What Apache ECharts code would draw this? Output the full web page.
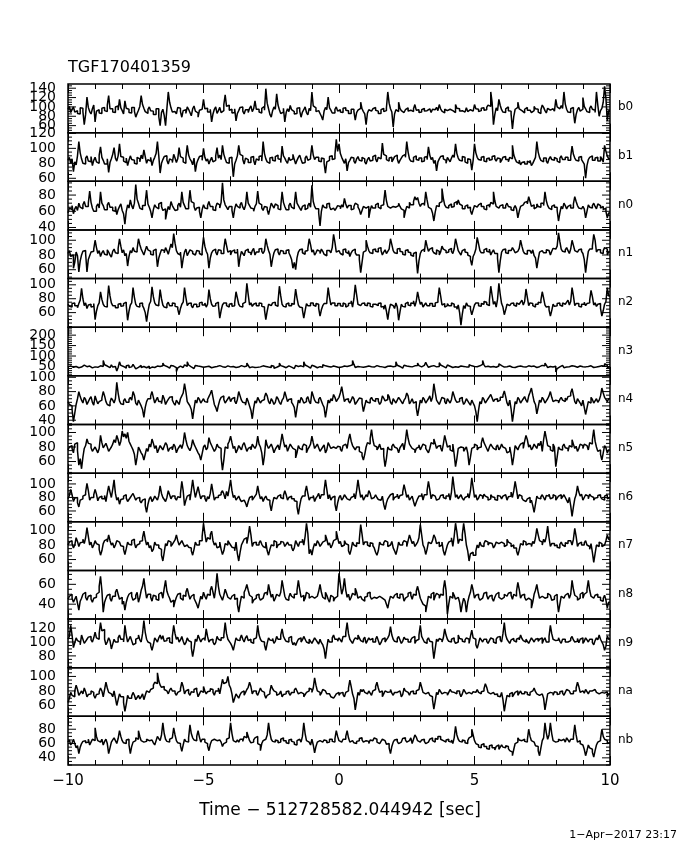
<!DOCTYPE html>
<html>
<head>
<meta charset="utf-8">
<script src="https://cdn.jsdelivr.net/npm/echarts@6/dist/echarts.min.js"></script>
<style>
html,body{margin:0;padding:0;background:#fff;}
#chart{width:680px;height:850px;}
</style>
</head>
<body>
<div id="chart"></div>
<script>
// ---- data: counts per 0.05 s bin, from t = -10 s to +10 s ----
const binStart = -10;
const binWidth = 0.05;
const detectorNames = ['b0','b1','n0','n1','n2','n3','n4','n5','n6','n7','n8','n9','na','nb'];

const b0 = [95,101,88,94,100,89,92,86,85,98,97,90,62,84,121,99,90,85,96,104,
68,91,94,87,86,97,99,92,90,104,124,96,96,89,88,100,102,93,116,98,
92,85,113,97,95,88,87,99,99,91,78,86,93,101,124,105,97,90,86,95,
100,92,91,84,84,96,96,79,60,88,95,82,60,97,132,110,98,89,90,94,
85,99,97,90,78,92,94,86,100,95,88,81,96,102,91,87,78,93,95,99,
116,96,97,89,89,95,68,85,95,100,86,92,99,88,92,105,126,101,104,93,
95,87,88,96,70,86,92,99,100,91,85,94,94,88,97,102,90,96,113,95,
95,89,87,97,101,93,139,108,96,84,78,92,100,95,128,104,94,86,89,97,
68,88,96,90,103,94,90,85,86,97,98,91,78,89,94,100,88,83,97,92,
132,102,98,90,92,96,86,80,72,91,99,94,121,98,93,87,87,95,100,91,
94,89,88,97,98,93,92,86,86,95,95,90,72,88,93,97,110,96,90,85,
62,87,94,91,88,96,99,93,91,86,86,94,97,90,92,98,132,108,96,89,
57,85,94,90,110,97,92,88,87,94,98,91,93,89,90,96,105,93,94,88,
89,94,97,91,92,88,96,93,88,95,94,90,99,92,105,96,91,87,95,92,
90,95,97,92,93,88,105,97,96,91,92,95,89,93,98,90,94,97,91,88,
105,96,95,90,92,97,98,93,94,99,104,101,132,110,62,84,98,92,116,103,
94,89,88,96,100,92,91,85,53,80,95,99,110,96,92,88,87,95,99,93,
93,97,88,92,101,96,95,89,86,94,104,99,92,87,97,93,89,96,98,91,
116,100,96,92,103,97,132,106,95,89,88,96,99,90,65,84,94,99,91,95,
120,101,96,90,88,97,102,95,93,88,132,104,80,92,97,110,144,118,70,92];
const b1 = [84,88,80,86,69,82,78,90,109,94,86,80,79,87,90,83,82,89,77,84,
88,82,80,91,102,88,84,79,79,86,68,81,86,92,101,87,83,90,106,89,
88,83,81,87,77,84,90,85,84,80,79,88,86,82,91,86,98,89,80,85,
83,88,77,84,88,93,109,90,67,80,85,89,90,84,79,86,84,81,92,87,
81,86,101,89,87,82,80,88,104,91,86,83,78,87,69,80,85,89,90,84,
100,88,83,86,79,84,88,82,84,90,101,87,91,85,104,92,86,81,80,87,
88,83,62,79,84,90,104,92,90,85,79,87,85,81,81,88,89,84,78,86,
84,89,90,83,109,93,86,82,80,87,88,84,83,89,91,86,85,81,103,90,
87,83,80,88,84,86,92,85,79,84,88,91,85,80,81,87,90,84,86,89,
104,91,85,88,88,83,82,87,86,80,67,82,84,89,90,85,86,92,112,96,
106,93,88,84,80,86,70,81,84,88,87,83,80,86,89,84,83,88,86,82,
79,85,88,83,84,89,91,86,82,88,86,84,107,92,90,85,83,87,88,82,
85,89,91,86,80,84,87,90,92,88,109,95,86,83,82,88,90,85,84,87,
87,82,83,88,89,85,102,91,85,88,80,84,70,82,86,89,90,86,84,80,
88,85,82,87,91,88,106,93,87,84,83,89,88,82,80,86,85,83,71,84,
106,94,88,85,84,88,89,83,82,86,87,84,85,89,90,86,83,87,86,81,
84,88,89,85,85,82,88,86,104,91,86,82,80,84,78,81,82,79,79,83,
81,84,77,80,84,88,109,95,88,84,82,87,87,83,80,86,89,85,84,88,
86,83,81,87,90,85,85,88,88,84,84,89,103,92,87,84,83,88,89,85,
82,79,60,77,85,88,90,84,84,87,88,83,83,89,86,82,104,96,90,86];
const n0 = [58,64,62,67,57,63,66,61,70,65,63,68,72,66,66,70,85,71,64,60,
60,66,69,64,84,70,67,62,62,68,71,65,65,61,60,66,56,62,66,69,
61,57,44,60,68,64,74,67,63,70,93,75,70,64,62,67,67,71,86,69,
65,60,52,62,68,65,63,69,71,66,61,63,50,59,66,62,72,67,64,61,
62,67,70,65,84,71,67,63,63,69,86,72,70,66,61,64,65,60,52,62,
68,64,63,67,72,66,66,62,61,65,70,68,64,71,95,74,68,65,62,66,
66,61,52,63,69,66,64,68,71,65,62,67,84,70,67,64,63,60,66,69,
85,70,68,64,61,66,65,62,56,63,70,67,64,69,67,63,62,66,84,71,
66,62,62,67,70,65,63,68,84,70,67,64,61,66,68,62,64,67,70,65,
92,72,66,63,63,58,42,60,68,65,64,69,70,66,62,64,66,61,64,67,
66,63,68,65,76,69,64,67,67,62,63,66,70,68,65,62,56,61,66,64,
62,66,52,61,67,64,64,68,70,65,63,67,68,71,86,73,66,64,62,66,
68,65,64,67,70,66,63,61,52,60,66,64,71,68,68,72,78,74,77,70,
66,69,70,67,84,74,65,63,61,58,48,59,67,66,70,72,88,76,68,65,
64,67,69,65,66,70,72,68,74,69,67,63,63,66,68,64,65,61,56,62,
67,65,64,68,70,66,66,63,62,67,68,65,71,69,84,73,66,64,63,67,
68,64,64,67,70,66,65,62,61,64,67,63,52,60,66,68,69,71,72,69,
78,72,66,68,63,65,69,66,65,70,70,67,84,73,67,64,62,66,68,65,
65,61,48,58,66,63,70,67,63,66,68,64,64,69,78,72,67,64,63,61,
66,63,52,60,68,65,64,67,70,66,63,69,67,64,66,62,64,60,52,58];
const n1 = [82,86,78,80,62,70,84,79,57,72,80,85,86,82,57,74,79,84,85,88,
100,90,82,86,78,83,86,81,80,87,84,80,77,85,88,83,82,89,102,92,
83,87,79,82,65,78,86,83,90,85,84,88,102,94,88,84,80,86,92,87,
85,81,80,86,88,84,64,76,82,87,86,83,90,86,81,88,95,90,109,96,
86,82,80,84,62,75,84,88,79,83,87,85,82,80,78,86,85,82,80,87,
104,92,85,81,62,76,83,86,88,84,80,87,86,82,82,88,102,93,84,86,
80,85,87,83,83,88,64,77,85,82,79,86,88,84,83,80,86,89,80,84,
84,88,89,85,82,86,102,93,86,81,64,75,83,87,88,84,80,86,85,82,
82,86,87,83,79,74,62,70,60,76,84,87,88,83,81,85,86,89,102,94,
84,87,80,83,87,85,82,88,85,81,79,86,86,84,83,90,108,97,84,86,
85,82,80,87,88,84,82,86,78,83,86,88,83,80,80,74,56,70,84,86,
100,92,86,83,82,87,88,85,84,89,90,86,80,84,87,82,85,88,102,94,
86,83,82,88,89,85,84,81,80,86,87,84,83,80,78,82,84,76,55,72,
82,86,88,84,100,92,85,88,90,86,83,81,87,85,80,84,92,88,86,83,
84,87,89,85,82,88,102,94,86,83,80,86,88,84,83,80,78,74,66,78,
82,88,104,95,86,83,83,87,89,85,84,88,80,84,87,82,82,75,56,72,
84,87,88,83,82,86,86,84,90,87,83,85,87,89,100,92,85,82,81,86,
86,84,82,87,79,76,62,74,84,86,88,83,83,87,86,84,80,85,89,88,
86,92,110,98,88,85,84,87,90,86,82,88,100,93,86,84,83,87,88,85,
82,74,56,72,85,88,88,92,108,100,84,87,87,83,82,86,90,88,80,84];
const n2 = [72,69,68,73,74,70,70,67,73,78,95,80,70,74,66,71,72,68,69,73,
50,62,70,74,90,79,72,69,68,75,99,84,74,70,70,67,67,72,73,69,
70,73,75,70,49,62,71,74,96,82,72,69,68,73,74,70,66,60,47,61,
72,76,97,83,74,71,70,73,93,80,71,68,67,72,75,70,70,74,73,69,
68,65,57,66,72,75,96,82,70,73,74,70,67,72,72,68,69,74,75,71,
71,74,68,72,93,80,72,69,70,73,75,71,52,63,71,74,74,70,68,72,
73,69,70,74,90,81,72,69,68,73,75,78,102,86,71,74,69,72,74,70,
70,74,73,69,68,64,50,62,72,70,70,74,75,71,69,76,98,84,72,69,
68,72,74,70,70,73,72,76,94,81,71,68,67,64,52,63,73,70,70,74,
74,71,69,73,72,66,55,64,70,73,73,76,96,82,71,74,74,70,70,73,
73,70,69,74,72,68,70,73,74,77,68,80,100,86,72,70,69,73,74,71,
70,74,73,69,68,72,72,70,70,73,74,68,69,65,71,62,50,64,72,70,
70,66,74,68,49,61,72,69,68,73,75,71,70,74,73,77,69,76,90,80,
72,75,68,71,74,70,70,73,73,69,69,74,75,79,96,84,71,73,68,70,
73,70,70,74,72,68,68,65,71,60,42,58,70,66,74,70,69,65,57,64,
71,74,74,70,69,73,72,76,75,72,70,78,98,85,72,76,68,79,102,86,
73,68,57,64,72,70,70,73,74,71,69,74,72,70,75,78,71,76,94,82,
70,74,73,70,68,72,72,75,74,78,90,81,71,68,69,64,55,63,72,69,
70,73,74,71,69,74,72,70,75,78,71,76,96,84,70,73,73,69,68,72,
72,75,70,73,74,78,92,83,71,74,69,72,73,66,55,63,72,76,96,84];
const n3 = [48,53,60,46,42,50,55,44,38,47,50,56,62,49,45,52,52,43,40,48,
55,46,47,53,60,50,79,58,52,45,44,51,58,47,50,42,28,45,72,55,
50,47,42,53,56,45,48,52,60,49,38,46,52,55,45,50,55,44,47,51,
40,47,53,45,46,52,58,50,44,53,66,55,50,46,42,49,55,52,48,44,
26,43,52,48,45,53,58,50,72,57,48,45,40,49,55,52,46,50,51,46,
43,49,56,51,48,44,40,47,53,50,47,54,58,49,42,46,50,53,45,48,
55,50,48,45,41,47,52,54,46,49,57,52,66,55,44,48,50,45,38,46,
52,48,46,53,58,50,43,47,50,45,55,51,41,46,48,52,66,54,50,47,
44,50,53,47,47,52,40,46,55,50,49,53,45,48,72,57,50,46,42,49,
56,51,47,44,52,49,40,46,58,53,46,50,50,47,44,52,55,49,48,45,
50,47,44,52,57,50,48,53,52,58,79,60,45,50,55,48,40,46,52,49,
47,52,58,49,43,47,51,54,46,50,55,48,40,45,53,51,48,52,56,49,
44,51,72,56,50,46,42,48,56,52,47,50,53,48,45,53,58,55,66,54,
48,52,55,58,70,56,46,51,60,54,52,48,44,50,68,57,50,47,43,49,
57,51,48,45,52,49,40,46,55,52,47,50,51,48,44,47,58,53,46,50,
52,49,45,53,56,60,79,58,48,51,42,47,55,50,50,46,46,52,63,54,
50,47,44,49,57,52,48,46,40,45,53,50,47,52,55,49,42,47,51,53,
46,50,56,52,48,45,43,49,52,55,58,53,66,56,45,50,50,47,54,51,
24,40,48,52,55,50,44,47,52,49,47,53,58,51,42,46,50,52,46,49,
53,48,44,50,56,53,48,45,40,47,52,50,47,53,55,51,63,55,45,48];
const n4 = [66,62,60,55,38,50,62,70,80,73,68,64,72,69,62,66,70,73,65,61,
74,68,63,66,68,71,80,74,66,62,60,65,71,68,64,70,93,78,67,63,
62,67,70,65,65,69,72,68,80,75,64,61,68,64,60,55,44,58,66,70,
70,74,80,72,64,68,72,66,66,63,75,70,62,66,69,72,73,68,64,61,
68,65,62,70,74,78,91,80,66,63,60,55,42,56,68,64,72,69,64,67,
70,66,65,69,73,77,82,72,62,58,52,61,68,72,74,69,64,67,70,73,
66,70,72,67,63,69,80,74,68,65,64,61,71,66,60,54,42,57,67,64,
72,68,64,67,69,72,78,74,66,63,70,67,62,65,73,70,65,62,68,71,
80,73,66,69,70,65,62,58,44,57,68,64,72,69,64,66,70,73,66,63,
80,74,68,65,64,69,72,67,62,58,44,56,68,64,70,67,76,72,66,69,
72,78,87,76,66,69,70,67,64,68,73,70,62,65,68,71,70,64,52,60,
68,65,64,69,72,68,66,70,70,67,62,65,74,71,67,69,76,73,65,62,
70,67,64,68,72,69,66,63,68,71,78,74,63,66,70,64,66,58,46,57,
68,64,72,69,64,67,70,74,66,72,91,79,68,65,62,67,72,70,66,63,
70,67,64,69,80,74,68,65,66,70,72,68,62,65,70,67,64,61,68,64,
60,52,38,54,66,63,72,69,64,67,70,73,76,71,66,69,70,66,68,72,
72,75,81,73,64,60,68,56,38,52,66,63,72,69,64,67,70,73,68,65,
74,79,85,75,66,62,49,58,68,65,72,69,64,67,70,74,80,72,66,68,
70,67,64,69,72,68,66,71,68,73,74,78,84,75,66,63,70,67,64,60,
68,58,48,57,66,64,72,69,64,67,70,65,68,74,85,78,72,69,66,70];
const n5 = [76,80,82,78,72,84,86,75,55,64,50,66,78,82,91,85,84,79,74,77,
80,76,72,78,96,86,79,82,85,80,74,77,80,84,90,86,96,90,82,88,
102,94,98,92,100,88,84,80,76,70,55,66,80,76,72,69,62,70,78,74,
84,80,91,85,78,82,72,77,82,79,76,81,86,83,74,78,80,76,84,81,
72,77,80,83,78,85,100,90,82,78,75,80,90,84,80,76,72,69,62,71,
80,83,76,79,93,86,82,78,74,77,84,80,78,66,48,62,80,78,84,88,
95,86,78,81,72,76,82,79,76,83,86,80,74,78,80,76,84,81,78,82,
95,84,80,72,55,68,90,82,78,81,84,79,72,77,80,83,76,86,98,88,
80,83,74,79,84,81,78,76,65,72,82,78,76,80,84,82,72,77,80,84,
95,86,78,81,84,79,74,77,80,83,72,76,86,82,78,80,82,78,76,81,
80,77,74,82,84,86,78,90,98,88,82,79,76,80,80,74,72,68,62,70,
80,86,84,92,104,90,82,80,76,79,84,77,78,68,53,64,80,77,76,81,
84,80,78,76,72,79,82,85,76,88,104,92,84,81,78,76,72,78,80,83,
76,80,84,82,78,75,72,78,86,84,91,85,78,81,82,79,74,84,96,88,
80,82,76,74,84,70,53,64,78,80,82,79,74,77,80,72,55,66,78,80,
84,82,76,79,80,85,93,86,82,78,74,80,84,81,78,76,80,83,76,79,
84,80,78,76,72,74,80,70,55,67,82,79,76,81,84,86,78,88,96,90,
80,83,76,79,84,81,78,85,82,88,74,90,102,92,82,80,76,74,84,80,
53,66,80,77,76,81,84,79,78,74,82,80,90,84,78,81,74,78,84,82,
78,84,82,80,76,86,84,90,104,88,80,74,76,70,62,72,82,79,72,76];
const n6 = [78,83,92,84,74,79,80,72,66,76,78,82,84,88,101,90,76,80,80,84,
92,85,75,80,82,78,78,83,74,86,97,88,80,92,106,86,76,80,70,77,
78,82,84,79,74,77,80,83,86,81,76,79,80,75,72,76,78,68,58,70,
78,81,74,77,82,79,76,83,97,86,80,77,74,80,90,84,78,82,82,79,
76,81,80,86,104,90,68,76,82,84,76,90,106,92,80,88,96,86,78,82,
82,79,74,81,78,86,100,88,76,80,80,83,84,87,90,85,78,89,82,94,
106,90,80,83,76,79,82,77,74,76,78,72,66,74,80,82,76,79,82,85,
97,86,78,81,74,79,82,77,76,70,60,72,80,78,76,82,84,80,78,83,
90,84,76,80,82,78,78,75,74,66,55,68,78,82,82,88,97,86,76,80,
80,83,74,79,82,86,78,84,84,90,106,92,78,84,76,80,82,70,60,72,
80,83,76,79,84,81,78,76,74,80,82,86,78,90,106,92,80,84,76,80,
84,81,90,86,78,80,82,84,80,77,76,74,82,70,62,72,78,81,84,86,
76,80,82,85,78,83,84,88,99,90,80,84,76,79,82,74,67,73,78,82,
82,86,76,84,84,90,104,92,78,84,82,80,76,78,80,83,84,80,78,82,
82,86,76,88,111,94,80,84,78,81,84,79,76,80,82,86,79,90,109,95,
80,84,76,79,84,82,78,85,82,80,76,78,84,81,80,77,76,83,82,80,
78,82,84,86,76,81,82,88,80,90,104,92,78,84,82,79,76,74,72,78,
80,72,76,68,58,70,82,79,78,81,84,80,76,83,82,85,78,80,84,82,
76,79,82,84,78,81,84,80,76,72,80,68,52,66,78,84,97,88,82,85,
76,80,84,82,78,85,82,80,76,79,80,83,84,81,78,76,82,84,78,80];
const n7 = [80,84,86,82,76,80,90,85,78,83,84,88,82,90,104,92,80,84,76,80,
86,82,80,74,66,72,82,86,88,84,94,86,80,83,76,80,86,84,82,79,
78,74,67,75,84,81,80,86,88,83,76,80,82,85,86,90,99,88,80,84,
76,79,71,74,84,80,80,76,74,66,58,70,82,79,86,84,78,81,84,87,
94,86,80,83,86,82,78,80,82,77,76,72,66,74,84,80,80,86,86,92,
110,96,84,90,88,94,99,86,80,83,76,78,84,74,67,72,82,80,86,83,
80,77,76,72,84,68,58,70,80,84,88,90,82,92,106,94,78,83,84,80,
80,83,86,81,78,76,84,72,66,74,80,79,86,84,76,80,82,85,84,82,
78,81,84,80,80,77,72,76,86,82,78,84,84,88,80,92,110,96,68,74,
66,76,82,79,86,83,78,81,84,86,94,88,80,83,76,80,86,88,99,90,
82,85,78,80,86,82,80,72,67,74,84,80,78,83,82,88,108,95,80,84,
84,80,78,83,82,79,76,70,66,72,84,81,80,83,86,84,78,80,82,85,
76,72,67,74,84,80,80,83,86,84,78,86,94,88,82,85,78,81,84,90,
108,94,80,76,67,74,84,82,80,86,94,90,82,84,78,80,84,72,66,73,
80,84,86,90,78,92,110,98,82,88,86,94,110,96,80,72,58,68,70,66,
66,72,80,76,84,79,78,82,86,84,80,83,82,80,76,79,84,82,80,84,
86,82,78,80,88,84,82,78,80,76,76,72,66,73,82,80,86,84,80,82,
84,81,78,85,82,90,103,94,86,84,80,88,84,92,106,90,78,82,82,79,
80,77,76,81,84,80,78,83,82,86,86,84,80,88,103,92,78,82,84,80,
80,83,86,80,78,74,82,70,56,68,80,78,84,82,78,80,82,86,94,88];
const n8 = [45,48,50,46,42,45,48,41,34,43,46,50,52,47,44,48,49,45,42,46,
47,50,52,58,68,54,32,42,46,49,50,46,43,48,48,52,55,50,45,47,
40,43,34,42,47,50,52,48,44,46,49,52,42,47,54,58,66,55,46,50,
50,47,43,49,48,45,44,50,52,54,46,56,64,53,49,46,42,44,37,43,
47,50,51,46,44,49,48,52,56,50,45,48,50,46,43,40,36,42,48,45,
52,48,45,50,49,54,58,52,46,56,71,58,50,47,44,49,55,51,47,45,
44,48,50,45,46,40,32,41,48,46,52,55,60,54,49,47,41,44,46,49,
50,47,44,46,48,51,52,49,60,53,47,50,43,46,50,48,46,52,64,56,
48,45,44,47,51,48,46,50,50,54,64,55,47,49,43,46,52,50,46,48,
49,46,44,48,50,53,60,52,47,45,52,49,45,42,49,47,43,46,48,51,
71,60,50,55,66,54,47,50,44,47,51,49,56,52,46,48,50,45,43,47,
48,51,52,48,45,47,49,46,44,48,50,46,47,44,42,40,36,43,48,46,
45,49,51,47,46,50,50,52,43,46,48,51,52,49,45,50,49,53,58,52,
46,43,40,38,32,40,48,46,50,52,44,48,51,49,46,50,49,55,64,54,
30,40,48,46,52,49,45,47,49,42,32,40,46,43,32,42,48,52,60,54,
46,49,50,47,44,46,48,51,52,49,45,48,49,46,43,47,50,52,47,45,
44,47,50,48,47,51,52,49,45,50,48,53,62,55,46,49,50,47,44,46,
48,44,36,42,50,54,60,52,46,48,49,46,44,47,51,49,47,44,45,48,
50,44,32,40,48,46,45,49,51,53,46,50,64,55,49,47,44,46,50,52,
46,50,52,55,64,54,48,46,45,49,50,47,47,44,43,46,49,44,36,42];
const n9 = [104,108,124,110,92,99,106,102,100,96,110,104,98,101,104,107,108,103,100,106,
114,106,104,112,128,116,118,104,96,100,106,102,90,97,104,100,100,106,110,104,
104,100,124,110,100,104,108,102,96,98,104,106,110,103,100,112,131,114,104,100,
98,95,88,96,106,103,100,106,110,104,109,101,102,105,106,100,98,108,124,112,
104,107,100,103,108,101,96,99,106,102,100,92,79,90,104,101,110,105,100,104,
106,102,119,108,100,103,104,100,96,99,108,104,102,106,106,110,128,112,104,101,
98,94,88,97,106,103,102,105,110,104,100,106,109,102,104,100,98,104,106,108,
124,110,104,101,100,96,88,98,106,103,102,105,98,101,108,104,104,110,119,108,
104,101,100,106,108,102,96,99,95,100,104,106,100,103,108,104,100,98,104,101,
98,102,106,103,100,97,104,99,96,90,76,92,104,100,100,106,110,104,104,101,
106,103,100,108,108,114,128,112,104,101,98,103,106,104,110,106,102,100,104,107,
98,102,106,103,105,100,100,104,108,102,96,99,104,106,100,103,106,110,122,110,
104,101,100,105,108,103,98,101,107,104,104,100,100,103,106,108,98,102,104,110,
124,108,104,100,98,103,106,101,100,94,76,90,104,101,105,103,100,106,119,110,
104,101,100,104,106,102,98,100,110,105,104,101,100,103,106,104,98,108,117,106,
104,96,91,98,106,103,100,104,104,101,98,102,106,104,100,98,104,107,108,103,
100,112,128,110,104,101,98,103,105,102,100,104,106,103,110,105,102,100,104,101,
98,102,106,103,100,104,105,101,104,106,98,103,106,100,100,108,124,112,104,102,
100,103,106,101,98,104,104,100,100,102,102,105,108,103,100,101,105,99,104,106,
98,101,106,103,100,104,104,99,96,102,106,103,110,104,100,96,88,94,109,104];
const na = [64,70,78,74,72,80,88,82,74,77,80,76,84,79,72,75,76,80,78,74,
70,75,76,79,84,80,72,82,92,84,78,76,74,72,80,70,60,68,76,72,
72,64,52,62,74,70,70,73,78,74,68,71,74,69,72,76,68,74,80,78,
76,82,84,88,92,90,105,94,88,85,86,82,80,78,76,81,84,80,80,77,
74,78,80,83,92,86,76,80,82,77,74,79,78,82,84,80,72,76,80,78,
86,80,76,79,80,83,82,78,74,80,80,84,76,86,96,90,92,94,100,88,
84,76,64,70,76,73,70,75,78,80,74,78,82,85,92,86,76,80,80,77,
74,79,84,80,78,75,70,74,76,79,88,83,80,78,74,76,78,80,72,75,
76,79,80,77,74,78,78,81,84,80,76,78,80,76,72,75,78,80,84,82,
78,84,98,88,80,78,74,77,82,80,80,76,76,74,72,70,70,73,76,78,
74,77,78,75,72,78,80,84,95,86,76,70,54,66,78,74,82,79,82,78,
76,78,80,77,74,80,82,86,92,84,78,80,72,76,80,78,76,79,82,77,
74,78,78,76,80,79,72,75,84,80,78,77,74,79,80,76,76,80,82,84,
92,85,78,76,74,78,80,74,72,68,55,66,78,75,82,79,76,78,80,77,
74,78,82,79,78,76,76,80,80,77,72,76,82,79,76,78,80,76,74,79,
78,80,82,78,76,79,80,83,90,85,78,76,74,78,80,75,76,73,72,70,
78,68,52,64,74,72,76,78,72,75,78,80,74,77,80,76,76,79,78,75,
74,78,80,82,84,79,76,74,72,76,78,70,54,65,76,78,80,77,74,79,
78,75,76,79,80,77,74,78,82,80,78,76,76,80,80,84,92,86,78,80,
80,77,82,79,76,80,80,78,82,84,78,76,74,78,80,77,76,79,72,76];
const nb = [62,65,58,61,66,60,54,57,46,55,60,63,64,61,62,66,58,62,66,64,
82,70,64,62,62,66,58,63,66,60,46,54,62,65,68,64,60,67,78,70,
64,61,60,65,66,58,46,56,62,64,68,66,78,70,64,62,60,63,66,64,
62,65,66,61,58,64,70,67,64,72,89,74,66,63,62,66,68,70,82,72,
64,61,60,57,49,58,66,63,62,68,86,74,68,65,64,70,78,69,62,66,
66,62,60,57,50,59,64,66,68,64,62,65,66,62,56,60,62,66,68,72,
89,74,64,62,60,65,62,66,66,63,70,68,76,70,64,61,62,65,68,70,
60,58,50,60,64,66,68,72,89,75,66,63,62,65,64,61,62,66,68,64,
64,61,60,65,66,63,62,59,58,64,66,68,62,70,89,74,64,62,60,58,
66,58,47,56,62,64,66,62,60,65,64,61,62,66,66,63,62,67,78,70,
64,62,60,66,66,70,78,68,62,64,66,61,60,63,64,67,68,65,62,64,
66,63,60,65,64,62,68,66,62,60,58,63,66,64,62,59,60,54,46,56,
62,65,66,63,60,62,64,67,68,65,62,64,66,68,60,66,72,69,64,62,
62,65,66,63,60,62,64,66,68,64,62,67,66,70,70,66,64,62,62,65,
66,63,62,65,60,68,84,72,66,63,62,65,64,61,60,64,68,70,80,72,
64,60,58,55,54,58,60,56,56,53,52,57,58,54,54,51,56,58,52,55,
58,55,54,57,56,53,50,48,43,52,60,62,68,65,64,66,66,63,62,65,
80,70,64,62,60,57,56,50,43,54,64,68,89,75,66,72,89,74,64,62,
60,63,66,64,62,66,64,62,68,65,62,66,66,70,86,72,62,64,60,58,
56,52,43,50,58,54,52,48,41,50,58,62,64,67,80,70,66,64,60,62];

const seriesData = [b0,b1,n0,n1,n2,n3,n4,n5,n6,n7,n8,n9,na,nb];

// y-axis ranges and labelled tick values of each panel
const yMins = [45, 56, 37, 48, 39, 5, 34, 44, 44, 45, 25, 63, 45, 30];
const yMaxs = [149,121, 97,114,109,238,102,111,116,112, 74,133,112, 98];
const yLabels = [
  [60,80,100,120,140],[60,80,100,120],[40,60,80],[60,80,100],[60,80,100],
  [50,100,150,200],[40,60,80,100],[60,80,100],[60,80,100],[60,80,100],
  [40,60],[80,100,120],[60,80,100],[40,60,80]
];
const yMinorSteps = [5,5,5,5,5,10,5,5,5,5,5,5,5,5];
const titleText = 'TGF170401359';
const xTitle = 'Time \u2212 512728582.044942 [sec]';
const footerText = '1\u2212Apr\u22122017 23:17';

// ---- layout ----
const W = 680, H = 850;
const plotLeft = 68, plotRight = 610, plotTop = 84, plotBottom = 765;
const nP = seriesData.length;
const panelH = (plotBottom - plotTop) / nP;
const FONT = 'DejaVu Sans';
const black = '#000';

const grids = [], xAxes = [], yAxes = [], series = [], graphics = [];

function minorValues(min, max, step, majors) {
  const out = [];
  for (let v = Math.ceil(min / step) * step; v <= max; v += step) {
    if (majors.indexOf(v) < 0) out.push(v);
  }
  return out;
}

function tickRenderer(params, api) {
  const v = api.value(1);
  const len = api.value(2) ? 8 : 4;
  const l = api.coord([-10, v]);
  const r = api.coord([10, v]);
  const st = { stroke: black, lineWidth: 1 };
  return { type: 'group', children: [
    { type: 'line', shape: { x1: l[0], y1: l[1], x2: l[0] + len, y2: l[1] }, style: st },
    { type: 'line', shape: { x1: r[0] - len, y1: r[1], x2: r[0], y2: r[1] }, style: st }
  ] };
}

for (let i = 0; i < nP; i++) {
  const top = plotTop + i * panelH;
  grids.push({
    left: plotLeft, top: top, width: plotRight - plotLeft, height: panelH,
    show: true, borderColor: black, borderWidth: 1.5, backgroundColor: 'transparent'
  });
  const last = (i === nP - 1);
  ['bottom', 'top'].forEach(function (pos) {
    const showLab = last && pos === 'bottom';
    xAxes.push({
      type: 'value', gridIndex: i, position: pos, min: -10, max: 10, interval: 5,
      axisLine: { show: false, onZero: false },
      axisTick: { show: true, inside: true, length: 9, lineStyle: { color: black, width: 1 } },
      minorTick: { show: true, splitNumber: 5, length: 5, lineStyle: { color: black, width: 1 } },
      splitLine: { show: false }, minorSplitLine: { show: false },
      axisLabel: {
        show: showLab, color: black, fontFamily: FONT, fontSize: 15, margin: 9,
        formatter: function (v) { return String(v).replace('-', '\u2212'); }
      }
    });
  });
  const majors = yLabels[i];
  const minors = minorValues(yMins[i], yMaxs[i], yMinorSteps[i], majors);
  // labels split over two left axes so that none are dropped as overlapping
  [0, 1].forEach(function (parity) {
    const labs = majors.filter(function (_, k) { return k % 2 === parity; });
    yAxes.push({
      type: 'value', gridIndex: i, position: 'left', min: yMins[i], max: yMaxs[i],
      axisLine: { show: false, onZero: false },
      axisTick: { show: false },
      splitLine: { show: false },
      axisLabel: {
        show: labs.length > 0, customValues: labs, color: black, fontFamily: FONT,
        fontSize: 14, margin: 12, showMinLabel: true, showMaxLabel: true, hideOverlap: false
      }
    });
  });
  const arr = seriesData[i];
  const pts = arr.map(function (v, k) { return [binStart + k * binWidth, v]; });
  pts.push([binStart + arr.length * binWidth, arr[arr.length - 1]]);
  series.push({
    type: 'line', name: detectorNames[i], xAxisIndex: 2 * i, yAxisIndex: 2 * i,
    data: pts, step: 'end', showSymbol: false, symbol: 'none', clip: true,
    lineStyle: { color: black, width: 1.5 }, silent: true
  });
  const tickData = majors.map(function (v) { return [0, v, 1]; })
    .concat(minors.map(function (v) { return [0, v, 0]; }));
  series.push({
    type: 'custom', xAxisIndex: 2 * i, yAxisIndex: 2 * i, clip: false, silent: true,
    encode: { x: 0, y: 1 }, data: tickData, renderItem: tickRenderer
  });
  graphics.push({
    type: 'text', left: plotRight + 8, top: top + panelH / 2 - 7,
    style: { text: detectorNames[i], font: '12px "' + FONT + '"', fill: black }
  });
}

graphics.push({ type: 'text', left: plotLeft, top: 60,
  style: { text: titleText, font: '16px "' + FONT + '"', fill: black } });
graphics.push({ type: 'text', left: 'center', top: 802,
  style: { text: xTitle, font: '17px "' + FONT + '"', fill: black } });
graphics.push({ type: 'text', right: 3, top: 830,
  style: { text: footerText, font: '11px "' + FONT + '"', fill: black } });

const chart = echarts.init(document.getElementById('chart'), null, { renderer: 'canvas', width: W, height: H });
chart.setOption({
  backgroundColor: '#fff',
  animation: false,
  grid: grids,
  xAxis: xAxes,
  yAxis: yAxes,
  series: series,
  graphic: graphics
});
</script>
</body>
</html>
